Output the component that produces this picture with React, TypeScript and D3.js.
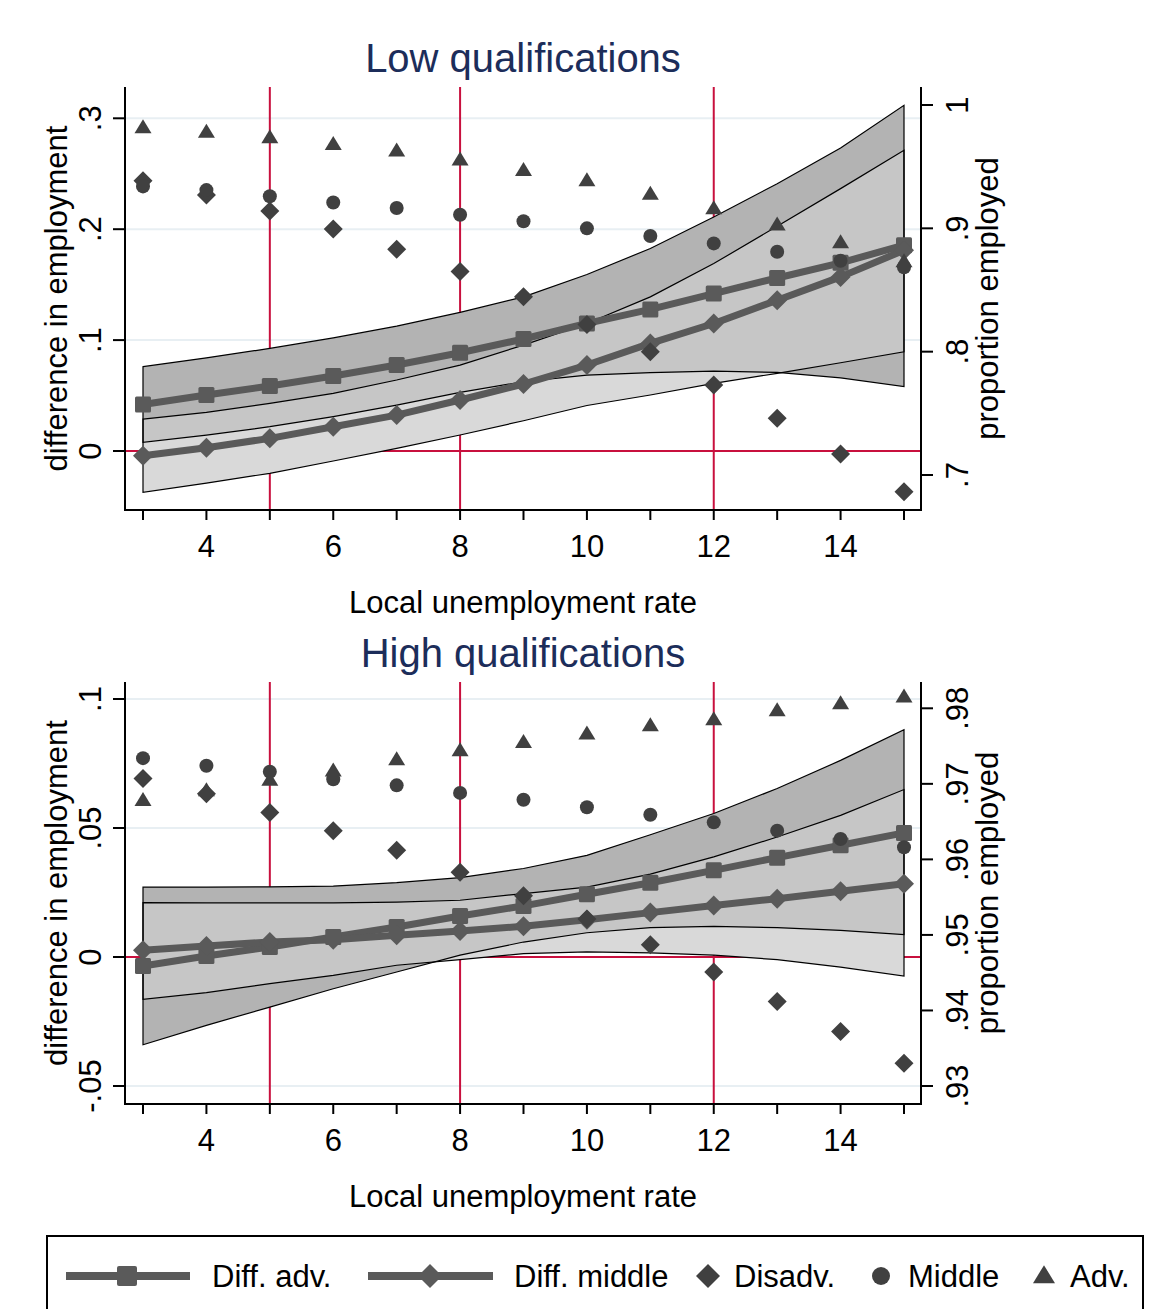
import React from "react";
import * as d3 from "d3";

// ---------- data ----------
const X = [3, 4, 5, 6, 7, 8, 9, 10, 11, 12, 13, 14, 15];

// Low qualifications panel
const lowAdv = [0.9816, 0.978, 0.9735, 0.968, 0.9627, 0.9554, 0.947, 0.9386, 0.9278, 0.916, 0.9027, 0.8883, 0.873];
const lowMiddle = [0.934, 0.931, 0.926, 0.921, 0.9165, 0.911, 0.9057, 0.9, 0.8938, 0.8878, 0.881, 0.8737, 0.8684];
const lowDisadv = [0.9386, 0.927, 0.914, 0.8994, 0.883, 0.865, 0.8445, 0.8221, 0.8, 0.773, 0.746, 0.717, 0.6864];
const lowDiffAdv = [0.042, 0.0505, 0.0586, 0.0676, 0.0775, 0.0886, 0.101, 0.115, 0.1277, 0.142, 0.156, 0.1697, 0.1856];
const lowDiffMid = [-0.0042, 0.003, 0.0114, 0.0219, 0.0324, 0.046, 0.0604, 0.0775, 0.097, 0.115, 0.136, 0.157, 0.181];
const lowAdvLo = [0.0078, 0.0144, 0.0219, 0.031, 0.0414, 0.0529, 0.0625, 0.0685, 0.0706, 0.072, 0.0709, 0.066, 0.058];
const lowAdvHi = [0.076, 0.084, 0.0925, 0.102, 0.1126, 0.125, 0.139, 0.1592, 0.1826, 0.211, 0.241, 0.2733, 0.3117];
const lowMidLo = [-0.0372, -0.029, -0.0201, -0.009, 0.0024, 0.0144, 0.0273, 0.041, 0.0505, 0.061, 0.07, 0.0796, 0.0895];
const lowMidHi = [0.0288, 0.0348, 0.043, 0.052, 0.064, 0.0775, 0.0955, 0.115, 0.139, 0.169, 0.2027, 0.2366, 0.2712];

// High qualifications panel
const highAdv = [0.9678, 0.9691, 0.9705, 0.9717, 0.9732, 0.9744, 0.9755, 0.9766, 0.9777, 0.9785, 0.9797, 0.9806, 0.9815];
const highMiddle = [0.9734, 0.9724, 0.9716, 0.9706, 0.9698, 0.9688, 0.9679, 0.9669, 0.9659, 0.9649, 0.9638, 0.9627, 0.9616];
const highDisadv = [0.9707, 0.9687, 0.9662, 0.9638, 0.9612, 0.9583, 0.9552, 0.9521, 0.9487, 0.9451, 0.9412, 0.9372, 0.933];
const highDiffAdv = [-0.0035, 0.0004, 0.0039, 0.0078, 0.0116, 0.0159, 0.0198, 0.0243, 0.0288, 0.0336, 0.0385, 0.0433, 0.0481];
const highDiffMid = [0.0026, 0.0043, 0.0058, 0.0067, 0.0084, 0.0101, 0.0119, 0.0144, 0.0172, 0.02, 0.0226, 0.0255, 0.0284];
const highAdvLo = [-0.034, -0.0265, -0.0194, -0.0123, -0.0058, 0.0007, 0.0058, 0.0094, 0.0114, 0.0119, 0.0114, 0.0103, 0.0087];
const highAdvHi = [0.0271, 0.0271, 0.0272, 0.0275, 0.0288, 0.0308, 0.0343, 0.0394, 0.0474, 0.0556, 0.0653, 0.0762, 0.0881];
const highMidLo = [-0.0164, -0.0138, -0.0103, -0.0071, -0.0032, -0.001, 0.0013, 0.002, 0.0016, 0.0007, -0.001, -0.0039, -0.0074];
const highMidHi = [0.0211, 0.021, 0.021, 0.021, 0.0213, 0.022, 0.0246, 0.0271, 0.0321, 0.0388, 0.0465, 0.0549, 0.0649];

const xTickLabels = [4, 6, 8, 10, 12, 14];
const xRefLines = [5, 8, 12];
const lowLeftTicks = [0, 0.1, 0.2, 0.3];
const lowLeftLabels = ["0", ".1", ".2", ".3"];
const lowRightTicks = [0.7, 0.8, 0.9, 1];
const lowRightLabels = [".7", ".8", ".9", "1"];
const highLeftTicks = [-0.05, 0, 0.05, 0.1];
const highLeftLabels = ["-.05", "0", ".05", ".1"];
const highRightTicks = [0.93, 0.94, 0.95, 0.96, 0.97, 0.98];
const highRightLabels = [".93", ".94", ".95", ".96", ".97", ".98"];
const legendLabels = ["Diff. adv.", "Diff. middle", "Disadv.", "Middle", "Adv."];

// ---------- styles ----------
const FONT = "'Liberation Sans', Arial, Helvetica, sans-serif";
const RED = "#c8103e";
const GRID = "#e8eff3";
const DIFF = "#5a5a5a";
const DOT = "#404040";
const BAND_ADV = "#b3b3b3";
const BAND_MID = "#d9d9d9";
const BAND_OVL = "#c6c6c6";
const TITLE = "#1c2d5a";

const PL = 125;
const PR = 921;
const xScale = d3.scaleLinear().domain([3, 15]).range([143, 904]);

const diamondPath = (cx: number, cy: number, r: number) =>
  `M${cx},${cy - r}L${cx + r},${cy}L${cx},${cy + r}L${cx - r},${cy}Z`;
const trianglePath = (cx: number, cy: number, w: number, h: number) =>
  `M${cx},${cy - h * 0.6}L${cx + w / 2},${cy + h * 0.4}L${cx - w / 2},${cy + h * 0.4}Z`;

type PanelProps = {
  id: string;
  title: string;
  top: number;
  bottom: number;
  leftDomain: number[];
  leftRange: number[];
  rightDomain: number[];
  rightRange: number[];
  leftTicks: number[];
  leftLabels: string[];
  rightTicks: number[];
  rightLabels: string[];
  adv: number[];
  middle: number[];
  disadv: number[];
  diffAdv: number[];
  diffMid: number[];
  advLo: number[];
  advHi: number[];
  midLo: number[];
  midHi: number[];
};

function Panel(p: PanelProps) {
  const yL = d3.scaleLinear().domain(p.leftDomain).range(p.leftRange);
  const yR = d3.scaleLinear().domain(p.rightDomain).range(p.rightRange);
  const area = (lo: number[], hi: number[]) =>
    d3
      .area<number>()
      .x((_, i) => xScale(X[i]))
      .y0((_, i) => yL(lo[i]))
      .y1((_, i) => yL(hi[i]))(X) as string;
  const outline = (lo: number[], hi: number[]) => {
    const pts: [number, number][] = [];
    X.forEach((x, i) => pts.push([xScale(x), yL(hi[i])]));
    for (let i = X.length - 1; i >= 0; i--) pts.push([xScale(X[i]), yL(lo[i])]);
    return "M" + pts.map((q) => q.join(",")).join("L") + "Z";
  };
  const line = (vals: number[]) =>
    d3
      .line<number>()
      .x((_, i) => xScale(X[i]))
      .y((v) => yL(v))(vals) as string;
  const advArea = area(p.advLo, p.advHi);
  const midArea = area(p.midLo, p.midHi);
  const cy = (p.top + p.bottom) / 2;
  return (
    <g>
      <defs>
        <clipPath id={`clip-adv-${p.id}`}>
          <path d={advArea} />
        </clipPath>
      </defs>
      {/* title */}
      <text x={523} y={p.top - 15} textAnchor="middle" fontSize={40} fill={TITLE} fontFamily={FONT}>
        {p.title}
      </text>
      {/* gridlines */}
      {p.leftTicks.map((t) => (
        <line key={"g" + t} x1={PL} x2={PR} y1={yL(t)} y2={yL(t)} stroke={GRID} strokeWidth={2} />
      ))}
      {/* reference lines */}
      {xRefLines.map((v) => (
        <line key={"r" + v} x1={xScale(v)} x2={xScale(v)} y1={p.top} y2={p.bottom} stroke={RED} strokeWidth={2} />
      ))}
      <line x1={PL} x2={PR} y1={yL(0)} y2={yL(0)} stroke={RED} strokeWidth={2} />
      {/* CI bands */}
      <path d={advArea} fill={BAND_ADV} />
      <path d={midArea} fill={BAND_MID} />
      <path d={midArea} fill={BAND_OVL} clipPath={`url(#clip-adv-${p.id})`} />
      <path d={outline(p.advLo, p.advHi)} fill="none" stroke="#000" strokeWidth={1.2} />
      <path d={outline(p.midLo, p.midHi)} fill="none" stroke="#000" strokeWidth={1.2} />
      {/* diff lines */}
      <path d={line(p.diffAdv)} fill="none" stroke={DIFF} strokeWidth={7} strokeLinejoin="round" />
      <path d={line(p.diffMid)} fill="none" stroke={DIFF} strokeWidth={7} strokeLinejoin="round" />
      {p.diffAdv.map((v, i) => (
        <rect key={"sq" + i} x={xScale(X[i]) - 8} y={yL(v) - 8} width={16} height={16} rx={1.5} fill={DIFF} />
      ))}
      {p.diffMid.map((v, i) => (
        <path key={"dm" + i} d={diamondPath(xScale(X[i]), yL(v), 10)} fill={DIFF} />
      ))}
      {/* scatter */}
      {p.disadv.map((v, i) => (
        <path key={"dd" + i} d={diamondPath(xScale(X[i]), yR(v), 9.5)} fill={DOT} />
      ))}
      {p.middle.map((v, i) => (
        <circle key={"c" + i} cx={xScale(X[i])} cy={yR(v)} r={7} fill={DOT} />
      ))}
      {p.adv.map((v, i) => (
        <path key={"t" + i} d={trianglePath(xScale(X[i]), yR(v), 17, 14)} fill={DOT} />
      ))}
      {/* axes */}
      <line x1={PL} x2={PL} y1={p.top} y2={p.bottom} stroke="#000" strokeWidth={2} />
      <line x1={PR} x2={PR} y1={p.top} y2={p.bottom} stroke="#000" strokeWidth={2} />
      <line x1={PL - 1} x2={PR + 1} y1={p.bottom} y2={p.bottom} stroke="#000" strokeWidth={2} />
      {X.map((x) => (
        <line key={"xt" + x} x1={xScale(x)} x2={xScale(x)} y1={p.bottom} y2={p.bottom + 10} stroke="#000" strokeWidth={2} />
      ))}
      {xTickLabels.map((x) => (
        <text key={"xl" + x} x={xScale(x)} y={p.bottom + 47} textAnchor="middle" fontSize={31} fontFamily={FONT}>
          {x}
        </text>
      ))}
      <text x={523} y={p.bottom + 103} textAnchor="middle" fontSize={31} fontFamily={FONT}>
        Local unemployment rate
      </text>
      {p.leftTicks.map((t, i) => (
        <g key={"lt" + t}>
          <line x1={PL - 12} x2={PL} y1={yL(t)} y2={yL(t)} stroke="#000" strokeWidth={2} />
          <text
            transform={`translate(101,${yL(t)}) rotate(-90)`}
            textAnchor="middle"
            fontSize={31}
            fontFamily={FONT}
          >
            {p.leftLabels[i]}
          </text>
        </g>
      ))}
      <text transform={`translate(67,${cy}) rotate(-90)`} textAnchor="middle" fontSize={31} fontFamily={FONT}>
        difference in employment
      </text>
      {p.rightTicks.map((t, i) => (
        <g key={"rt" + t}>
          <line x1={PR} x2={PR + 12} y1={yR(t)} y2={yR(t)} stroke="#000" strokeWidth={2} />
          <text
            transform={`translate(968,${yR(t)}) rotate(-90)`}
            textAnchor="middle"
            fontSize={31}
            fontFamily={FONT}
          >
            {p.rightLabels[i]}
          </text>
        </g>
      ))}
      <text transform={`translate(998,${cy}) rotate(-90)`} textAnchor="middle" fontSize={31} fontFamily={FONT}>
        proportion employed
      </text>
    </g>
  );
}

function Legend() {
  const y = 1276;
  return (
    <g fontFamily={FONT} fontSize={31}>
      <rect x={47} y={1236} width={1096} height={100} fill="#fff" stroke="#000" strokeWidth={2} />
      <line x1={66} x2={190} y1={y} y2={y} stroke={DIFF} strokeWidth={8} />
      <rect x={117} y={y - 10} width={20} height={20} rx={2} fill={DIFF} />
      <text x={212} y={y + 11}>{legendLabels[0]}</text>
      <line x1={368} x2={493} y1={y} y2={y} stroke={DIFF} strokeWidth={8} />
      <path d={diamondPath(430, y, 12)} fill={DIFF} />
      <text x={514} y={y + 11}>{legendLabels[1]}</text>
      <path d={diamondPath(708, y, 12)} fill={DOT} />
      <text x={734} y={y + 11}>{legendLabels[2]}</text>
      <circle cx={881} cy={y} r={9} fill={DOT} />
      <text x={908} y={y + 11}>{legendLabels[3]}</text>
      <path d={trianglePath(1044, y, 22, 18)} fill={DOT} />
      <text x={1070} y={y + 11}>{legendLabels[4]}</text>
    </g>
  );
}

export default function App() {
  return (
    <svg
      width={1176}
      height={1309}
      style={{ position: "absolute", left: 0, top: 0, background: "#fff" }}
    >
      <rect x={0} y={0} width={1176} height={1309} fill="#fff" />
      <Panel
        id="low"
        title="Low qualifications"
        top={87}
        bottom={510}
        leftDomain={[0, 0.3]}
        leftRange={[451, 118.3]}
        rightDomain={[0.7, 1]}
        rightRange={[475, 105]}
        leftTicks={lowLeftTicks}
        leftLabels={lowLeftLabels}
        rightTicks={lowRightTicks}
        rightLabels={lowRightLabels}
        adv={lowAdv}
        middle={lowMiddle}
        disadv={lowDisadv}
        diffAdv={lowDiffAdv}
        diffMid={lowDiffMid}
        advLo={lowAdvLo}
        advHi={lowAdvHi}
        midLo={lowMidLo}
        midHi={lowMidHi}
      />
      <Panel
        id="high"
        title="High qualifications"
        top={682}
        bottom={1104}
        leftDomain={[-0.05, 0.1]}
        leftRange={[1086, 699]}
        rightDomain={[0.93, 0.98]}
        rightRange={[1086, 708.3]}
        leftTicks={highLeftTicks}
        leftLabels={highLeftLabels}
        rightTicks={highRightTicks}
        rightLabels={highRightLabels}
        adv={highAdv}
        middle={highMiddle}
        disadv={highDisadv}
        diffAdv={highDiffAdv}
        diffMid={highDiffMid}
        advLo={highAdvLo}
        advHi={highAdvHi}
        midLo={highMidLo}
        midHi={highMidHi}
      />
      <Legend />
    </svg>
  );
}
